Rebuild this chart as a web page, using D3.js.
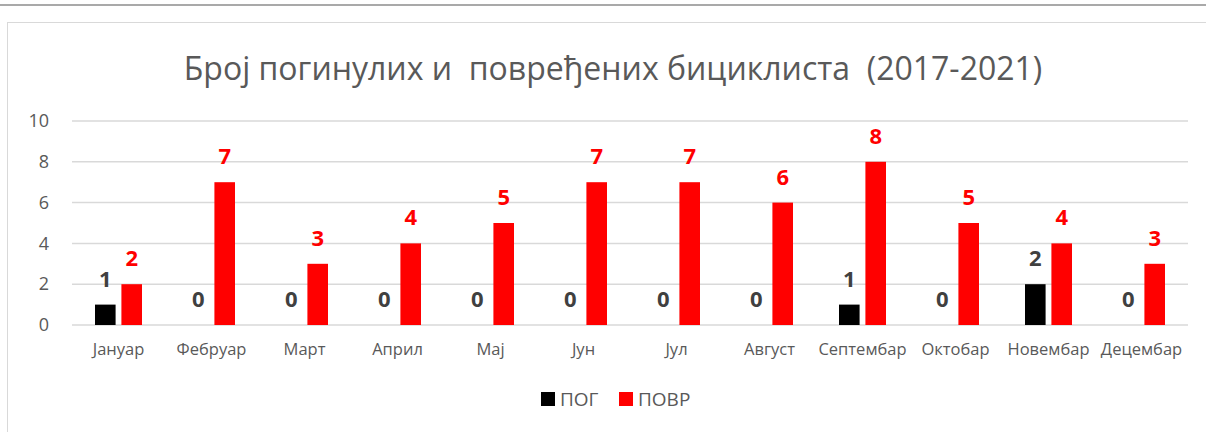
<!DOCTYPE html>
<html>
<head>
<meta charset="utf-8">
<script src="https://cdn.jsdelivr.net/npm/d3@7"></script>
<style>
  body { margin: 0; background: #fff; }
  text { font-family: "Open Sans", "Noto Sans", sans-serif; }
</style>
</head>
<body>
<script>
var months = ['Јануар', 'Фебруар', 'Март', 'Април', 'Мај', 'Јун', 'Јул', 'Август', 'Септембар', 'Октобар', 'Новембар', 'Децембар'];
var pog = [1, 0, 0, 0, 0, 0, 0, 0, 1, 0, 2, 0];
var povr = [2, 7, 3, 4, 5, 7, 7, 6, 8, 5, 4, 3];
var seriesNames = ['ПОГ', 'ПОВР'];
var seriesColors = ['#000000', '#ff0000'];
var labelColors = ['#404040', '#ff0000'];
var yTicks = [0, 2, 4, 6, 8, 10];

var width = 1206;
var height = 432;

var svg = d3.select('body').append('svg')
  .attr('width', width)
  .attr('height', height);

// top rule and chart frame
svg.append('line')
  .attr('x1', 0).attr('x2', width)
  .attr('y1', 5).attr('y2', 5)
  .attr('stroke', '#8c8c8c').attr('stroke-width', 1.5);

svg.append('rect')
  .attr('x', 7.5).attr('y', 22.5)
  .attr('width', 1220).attr('height', 440)
  .attr('fill', 'none').attr('stroke', '#d9d9d9');

svg.append('text')
  .attr('x', 613).attr('y', 80)
  .attr('text-anchor', 'middle')
  .attr('fill', '#595959')
  .attr('font-size', 32)
  .style('white-space', 'pre')
  .text('Број погинулих и  повређених бициклиста  (2017-2021)');

var x0 = d3.scaleBand().domain(months).range([72, 1188]);
var x1 = d3.scaleBand().domain(seriesNames).range([0, 47]).paddingInner(0.22);
var y = d3.scaleLinear().domain([0, 10]).range([325, 121]);

var grid = svg.append('g');
grid.selectAll('line')
  .data(yTicks)
  .enter()
    .append('line')
    .attr('x1', 72).attr('x2', 1188)
    .attr('y1', function(d) { return y(d); })
    .attr('y2', function(d) { return y(d); })
    .attr('stroke', '#d9d9d9').attr('stroke-width', 1.5);

var yAxis = svg.append('g')
  .attr('transform', 'translate(49,0)')
  .call(d3.axisLeft(y).tickValues(yTicks).tickSize(0).tickPadding(0));
yAxis.select('.domain').remove();
yAxis.selectAll('text')
  .attr('fill', '#595959')
  .attr('font-size', 18)
  .attr('font-family', '"Open Sans", sans-serif');

var xAxis = svg.append('g')
  .attr('transform', 'translate(0,339)')
  .call(d3.axisBottom(x0).tickSize(0).tickPadding(0));
xAxis.select('.domain').remove();
xAxis.selectAll('text')
  .attr('fill', '#595959')
  .attr('font-size', 16.5)
  .attr('dy', '0.95em')
  .attr('font-family', '"Open Sans", sans-serif');

var rows = months.map(function(m, i) {
  return { month: m, values: [pog[i], povr[i]] };
});

var groups = svg.selectAll('.group')
  .data(rows)
  .enter()
    .append('g')
    .attr('class', 'group')
    .attr('transform', function(d) {
      return 'translate(' + (x0(d.month) + x0.bandwidth() / 2 - 23.5) + ',0)';
    });

groups.selectAll('rect')
  .data(function(d) { return d.values; })
  .enter()
    .append('rect')
    .attr('x', function(d, i) { return x1(seriesNames[i]); })
    .attr('width', x1.bandwidth())
    .attr('y', function(d) { return y(d); })
    .attr('height', function(d) { return y(0) - y(d); })
    .attr('fill', function(d, i) { return seriesColors[i]; });

groups.selectAll('.lbl')
  .data(function(d) { return d.values; })
  .enter()
    .append('text')
    .attr('class', 'lbl')
    .attr('x', function(d, i) { return x1(seriesNames[i]) + x1.bandwidth() / 2; })
    .attr('y', function(d) { return y(d) - 18; })
    .attr('text-anchor', 'middle')
    .attr('font-size', 22)
    .attr('font-weight', 'bold')
    .attr('fill', function(d, i) { return labelColors[i]; })
    .text(function(d) { return d; });

// legend
var legend = svg.append('g').attr('transform', 'translate(541,392)');
var items = legend.selectAll('g')
  .data(seriesNames)
  .enter()
    .append('g')
    .attr('transform', function(d, i) { return 'translate(' + (i * 78) + ',0)'; });
items.append('rect')
  .attr('width', 14).attr('height', 14)
  .attr('fill', function(d, i) { return seriesColors[i]; });
items.append('text')
  .attr('x', 19).attr('y', 14)
  .attr('font-size', 19)
  .attr('fill', '#595959')
  .text(function(d) { return d; });
</script>
</body>
</html>
